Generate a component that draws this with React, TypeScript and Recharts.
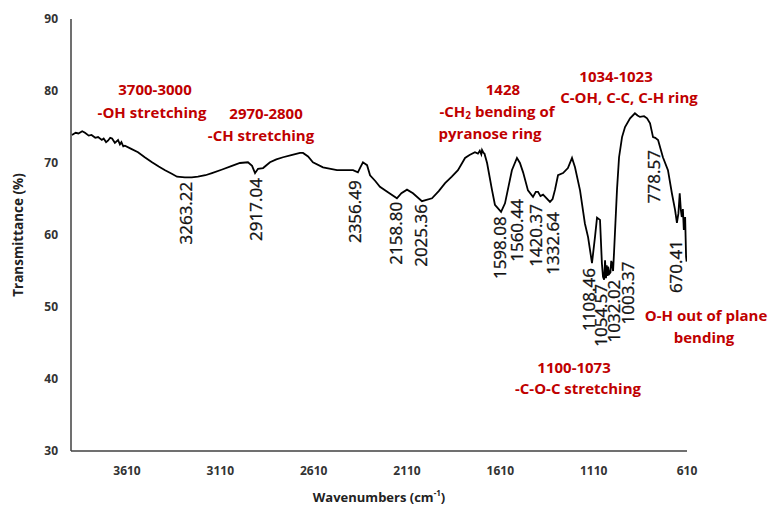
import React from 'react';
import { LineChart, Line, XAxis, YAxis, ReferenceDot } from 'recharts';

// FTIR spectrum
const wavenumbers = [
  3905, 3885, 3870, 3850, 3835, 3815, 3800, 3780, 3765, 3745, 3735, 3722, 3712, 3700, 3690, 3675,
  3658, 3648, 3640, 3630, 3621, 3590, 3551, 3515, 3476, 3440,
  3406, 3370, 3342, 3300, 3263, 3230, 3190, 3155, 3100, 3048, 3005, 2962, 2940, 2924, 2908, 2881,
  2844, 2810, 2774, 2730, 2683, 2667, 2640, 2614, 2560, 2485, 2399, 2373, 2360, 2346, 2335, 2324,
  2308, 2280, 2255, 2210, 2164, 2140, 2110, 2078, 2030, 1976, 1940, 1906, 1870, 1837, 1799, 1775,
  1746, 1730, 1720, 1712, 1708, 1700, 1695, 1681, 1655, 1639, 1606, 1585, 1548, 1521, 1505, 1488, 1462, 1435, 1420,
  1408, 1395, 1381, 1344, 1330, 1317, 1301, 1274, 1248, 1226, 1210, 1183, 1157, 1140, 1119, 1103, 1092,
  1076, 1066, 1060, 1054, 1049, 1044, 1040, 1036, 1033, 1026, 1020, 1016, 1012, 1006, 1001, 985, 974, 958, 942, 915, 889,
  875, 862, 840, 824, 808, 792, 780, 765, 739, 712, 691, 674, 664, 656, 649, 643,
  638, 632, 627, 620, 615, 612,
];
const transmittance = [
  73.9, 74.2, 74.1, 74.4, 74.2, 73.8, 73.9, 73.5, 73.6, 73.2, 73.4, 72.9, 73.1, 73.5, 73.4, 72.8,
  73.2, 72.6, 72.9, 72.3, 72.4, 72.0, 71.5, 70.8, 70.1, 69.5,
  69.0, 68.5, 68.1, 68.0, 68.0, 68.1, 68.3, 68.6, 69.1, 69.6, 70.0, 70.1, 69.6, 68.6, 69.2, 69.3,
  70.1, 70.5, 70.8, 71.1, 71.4, 71.4, 70.9, 70.1, 69.4, 69.0, 69.0, 68.7, 69.4, 70.1, 69.9, 69.7,
  68.3, 67.5, 66.7, 65.9, 65.1, 65.8, 66.3, 65.8, 64.7, 65.1, 66.1, 67.2, 68.1, 69.0, 70.7, 71.1,
  71.5, 71.3, 71.7, 71.2, 71.8, 71.4, 71.3, 70.0, 66.3, 64.2, 63.2, 64.4, 69.0, 70.7, 70.0, 68.7, 66.2, 65.3, 66.0,
  66.0, 65.4, 65.6, 64.6, 65.0, 66.3, 68.3, 68.6, 69.3, 70.7, 69.4, 66.2, 61.6, 59.7, 56.1, 59.7, 62.4,
  62.1, 56.1, 54.2, 53.8, 56.5, 54.0, 55.8, 54.3, 55.6, 54.6, 54.8, 56.4, 56.1, 55.0, 57.5, 66.3, 70.8, 73.6, 75.0, 76.2, 76.9,
  76.6, 76.4, 76.5, 76.2, 75.5, 73.6, 73.5, 73.2, 70.8, 69.0, 65.8, 63.5, 61.7, 63.0, 65.8, 63.5,
  62.5, 63.6, 60.7, 62.5, 57.0, 56.3,
];

const xTicks = [3610, 3110, 2610, 2110, 1610, 1110, 610];
const yTicks = [30, 40, 50, 60, 70, 80, 90];

// peak labels (rotated), anchored at the top end of the text
const peakLabels = ['3263.22', '2917.04', '2356.49', '2158.80', '2025.36', '1598.08', '1560.44', '1420.37', '1332.64', '1108.46', '1054.57', '1032.02', '1003.37', '778.57', '670.41'];
const peakLabelWn = [3299, 2919, 2389, 2169, 2035, 1612, 1521, 1424, 1333, 1140, 1071, 1001, 931, 792, 674];
const peakLabelT = [67.4, 67.9, 67.6, 64.6, 64.3, 62.6, 65.0, 64.3, 63.2, 55.4, 53.2, 53.8, 56.3, 71.8, 59.3];

// red band assignments, one entry per text line (centre point)
const bandLines = ['3700-3000', '-OH stretching', '2970-2800', '-CH stretching', '1428', '-CH2 bending of', 'pyranose ring', '1034-1023', 'C-OH, C-C, C-H ring', 'O-H out of plane', 'bending', '1100-1073', '-C-O-C stretching'];
const bandWn = [3460, 3476, 2865, 2892, 1596, 1628, 1665, 990, 921, 508, 519, 1215, 1194];
const bandT = [80.3, 77.1, 76.9, 73.9, 80.3, 77.2, 74.2, 82.1, 79.2, 48.9, 45.8, 41.7, 38.8];

const data = wavenumbers.map((wn, i) => ({ wn, t: transmittance[i] }));

const FONT = '"Open Sans", sans-serif';
const RED = '#C00000';

function bandText(txt: string) {
  if (txt === '-CH2 bending of') {
    return (
      <>
        -CH<tspan dy={4} fontSize={10}>2</tspan><tspan dy={-4}> bending of</tspan>
      </>
    );
  }
  return txt;
}

export default function App() {
  return (
    <div style={{ position: 'absolute', left: 0, top: 0, fontFamily: FONT }}>
      <LineChart width={769} height={506} data={data} margin={{ top: 19, right: 82, bottom: 0, left: 0 }}>
        <XAxis
          type="number"
          dataKey="wn"
          domain={[610, 3910]}
          reversed
          allowDataOverflow
          ticks={xTicks}
          height={55}
          tickLine={false}
          tickSize={0}
          tickMargin={15}
          axisLine={{ stroke: '#404040', strokeWidth: 1.5 }}
          tick={{ fill: '#333', fontSize: 12, fontWeight: 700, fontFamily: FONT }}
          label={{
            position: 'insideBottom',
            content: (p: any) => {
              const vb = p.viewBox;
              return (
                <text x={vb.x + vb.width / 2} y={497} textAnchor="middle" dominantBaseline="central" fontSize={13} fontWeight={700} fill="#222" fontFamily={FONT}>
                  Wavenumbers (cm<tspan dy={-5} fontSize={8}>-1</tspan><tspan dy={5}>)</tspan>
                </text>
              );
            },
          }}
        />
        <YAxis
          type="number"
          domain={[30, 90]}
          ticks={yTicks}
          width={71}
          tickLine={false}
          tickSize={0}
          tickMargin={13}
          axisLine={{ stroke: '#404040', strokeWidth: 1.5 }}
          tick={{ fill: '#333', fontSize: 12, fontWeight: 700, fontFamily: FONT }}
          label={{
            position: 'insideLeft',
            content: (p: any) => {
              const vb = p.viewBox;
              const cy = vb.y + vb.height / 2;
              return (
                <text x={18} y={cy} transform={`rotate(-90 18 ${cy})`} textAnchor="middle" dominantBaseline="central" fontSize={13.5} fontWeight={700} fill="#222" fontFamily={FONT}>
                  Transmittance (%)
                </text>
              );
            },
          }}
        />
        <Line type="linear" dataKey="t" stroke="#000" strokeWidth={1.8} dot={false} isAnimationActive={false} />
        {peakLabels.map((txt, i) => (
          <ReferenceDot
            key={'p' + i}
            x={peakLabelWn[i]}
            y={peakLabelT[i]}
            ifOverflow="visible"
            shape={(p: any) => (
              <text x={p.cx} y={p.cy} transform={`rotate(-90 ${p.cx} ${p.cy})`} textAnchor="end" dominantBaseline="central" fontSize={17} fill="#111" stroke="#111" strokeWidth={0.3} fontFamily={FONT}>
                {txt}
              </text>
            )}
          />
        ))}
        {bandLines.map((txt, i) => (
          <ReferenceDot
            key={'b' + i}
            x={bandWn[i]}
            y={bandT[i]}
            ifOverflow="visible"
            shape={(p: any) => (
              <text x={p.cx} y={p.cy} textAnchor="middle" dominantBaseline="central" fontSize={15} fontWeight={700} fill={RED} fontFamily={FONT}>
                {bandText(txt)}
              </text>
            )}
          />
        ))}
      </LineChart>
    </div>
  );
}
